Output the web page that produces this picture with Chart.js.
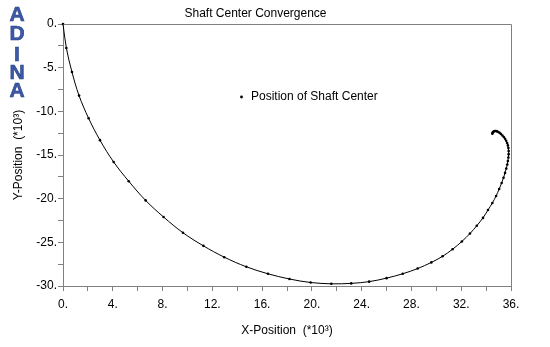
<!DOCTYPE html>
<html>
<head>
<meta charset="utf-8">
<script src="https://cdn.jsdelivr.net/npm/chart.js@4/dist/chart.umd.min.js"></script>
<style>
  html, body { margin: 0; padding: 0; background: #fff; }
  #wrap { width: 550px; height: 347px; }
</style>
</head>
<body>
<div id="wrap"><canvas id="shaftChart" width="550" height="347"></canvas></div>
<script>
// shaft center position (units of 10^-3)
const xPos = [0, 0.27, 0.72, 1.29, 2.06, 2.97, 4.07, 5.28, 6.64, 8.08, 9.64, 11.28, 12.96,
    14.73, 16.47, 18.2, 19.9, 21.56, 23.16, 24.6, 26.0, 27.3, 28.5, 29.6, 30.5, 31.3, 32.05,
    32.7, 33.25, 33.75, 34.15, 34.5, 34.8, 35.05, 35.25, 35.4, 35.52, 35.62, 35.7, 35.75,
    35.79, 35.81, 35.81, 35.79, 35.75, 35.69, 35.61, 35.52, 35.42, 35.31, 35.2, 35.09, 34.98,
    34.88, 34.79, 34.71, 34.64, 34.58, 34.54, 34.51, 34.5];
const yPos = [0, -2.75, -5.5, -8.2, -10.8, -13.3, -15.8, -18.0, -20.2, -22.1, -23.9, -25.4,
    -26.7, -27.8, -28.6, -29.2, -29.6, -29.75, -29.7, -29.5, -29.1, -28.6, -28.0, -27.3,
    -26.6, -25.8, -24.9, -24.0, -23.1, -22.2, -21.3, -20.5, -19.7, -18.9, -18.2, -17.6,
    -17.05, -16.55, -16.1, -15.68, -15.28, -14.9, -14.54, -14.2, -13.9, -13.62, -13.37,
    -13.14, -12.94, -12.76, -12.6, -12.47, -12.37, -12.3, -12.26, -12.26, -12.29, -12.34,
    -12.41, -12.49, -12.57];

const xTicks = [0, 4, 8, 12, 16, 20, 24, 28, 32, 36];
const yTicks = [0, -5, -10, -15, -20, -25, -30];

const seriesName = 'Position of Shaft Center';
const axisGray = '#808080';
const font = { family: "'Liberation Sans', Arial, Helvetica, sans-serif", size: 12, weight: 'normal' };

let points = [];
for (let i = 0; i < xPos.length; i++) {
    points.push({ x: xPos[i], y: yPos[i] });
}

// top and right sides of the frame
const framePlugin = {
    id: 'frame',
    afterDraw(chart) {
        const a = chart.chartArea;
        const c = chart.ctx;
        c.save();
        c.strokeStyle = axisGray;
        c.lineWidth = 1;
        c.beginPath();
        c.moveTo(Math.round(a.left) + 0.5, Math.round(a.top) + 0.5);
        c.lineTo(Math.round(a.right) + 0.5, Math.round(a.top) + 0.5);
        c.lineTo(Math.round(a.right) + 0.5, Math.round(a.bottom) + 0.5);
        c.stroke();
        c.restore();
    }
};

// ADINA logo and the in-plot legend
const decorPlugin = {
    id: 'decor',
    afterDraw(chart) {
        const c = chart.ctx;
        c.save();
        c.font = "bold 21px 'Liberation Sans', Arial, sans-serif";
        c.textAlign = 'center';
        c.textBaseline = 'middle';
        c.fillStyle = '#3c5aa8';
        c.strokeStyle = '#2a3f80';
        c.lineWidth = 0.6;
        const letters = ['A', 'D', 'I', 'N', 'A'];
        const ys = [15.5, 34.5, 55, 73.5, 91.5];
        for (let i = 0; i < letters.length; i++) {
            c.fillText(letters[i], 17, ys[i]);
            c.strokeText(letters[i], 17, ys[i]);
        }

        c.fillStyle = '#000';
        c.beginPath();
        c.arc(241.5, 97, 1.4, 0, Math.PI * 2);
        c.fill();
        c.font = "12px 'Liberation Sans', Arial, sans-serif";
        c.textAlign = 'left';
        c.fillText(seriesName, 251, 97);
        c.restore();
    }
};

let ctx = document.getElementById('shaftChart').getContext('2d');

let shaftChart = new Chart(ctx, {
    type: 'scatter',
    data: {
        datasets: [{
            label: seriesName,
            data: points,
            showLine: true,
            borderColor: '#000',
            borderWidth: 1,
            backgroundColor: '#000',
            pointRadius: 1.3,
            pointBorderWidth: 0,
            tension: 0.35,
            clip: false
        }]
    },
    options: {
        responsive: false,
        animation: false,
        devicePixelRatio: 1,
        layout: { padding: { left: 0, right: 39, top: 0, bottom: 0 } },
        plugins: {
            legend: { display: false },
            tooltip: { enabled: false },
            title: {
                display: true,
                text: 'Shaft Center Convergence',
                color: '#000',
                font: font,
                padding: { top: 6, bottom: 3.6 }
            }
        },
        scales: {
            x: {
                type: 'linear',
                min: 0,
                max: 36,
                afterFit: function (scale) { scale.height = 61; },
                grid: { drawOnChartArea: false, drawTicks: true, tickLength: 5, color: axisGray },
                border: { display: true, color: axisGray },
                ticks: {
                    stepSize: 2,
                    autoSkip: false,
                    maxRotation: 0,
                    padding: 6,
                    color: '#000',
                    font: font,
                    callback: v => xTicks.includes(v) ? v + '.' : ''
                },
                title: {
                    display: true,
                    text: 'X-Position  (*10³)',
                    color: '#000',
                    font: font,
                    padding: { top: 0, bottom: 9 }
                }
            },
            y: {
                type: 'linear',
                min: -30,
                max: 0,
                afterFit: function (scale) { scale.width = 63; },
                grid: { drawOnChartArea: false, drawTicks: true, tickLength: 5, color: axisGray },
                border: { display: true, color: axisGray },
                ticks: {
                    stepSize: 2.5,
                    autoSkip: false,
                    padding: 1,
                    color: '#000',
                    font: font,
                    callback: v => yTicks.includes(v) ? v + '.' : ''
                },
                title: {
                    display: true,
                    text: 'Y-Position  (*10³)',
                    color: '#000',
                    font: font,
                    padding: { top: 11, bottom: 0 }
                }
            }
        }
    },
    plugins: [framePlugin, decorPlugin]
});
</script>
</body>
</html>
